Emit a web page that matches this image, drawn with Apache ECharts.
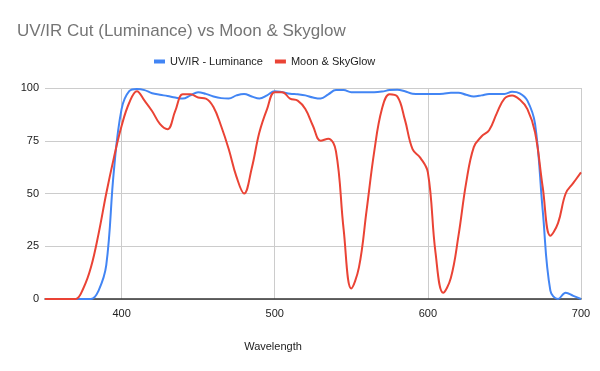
<!DOCTYPE html>
<html>
<head>
<meta charset="utf-8">
<script src="https://cdn.jsdelivr.net/npm/echarts@6/dist/echarts.min.js"></script>
<style>html,body{margin:0;padding:0;background:#fff}#c{width:600px;height:371px}</style>
</head>
<body>
<div id="c"></div>
<script>
const wavelengths = [350,355,360,365,370,375,380,385,390,395,400,405,410,415,420,425,430,435,440,445,450,455,460,465,470,475,480,485,490,495,500,505,510,515,520,525,530,535,540,545,550,555,560,565,570,575,580,585,590,595,600,605,610,615,620,625,630,635,640,645,650,655,660,665,670,675,680,685,690,695,700];
const uvirLuminance = [0,0,0,0,0,0,0,4,16,61,90,98.5,99.5,99,97.5,96.8,96.2,95.5,95,96.5,98,97.2,96,95.2,95,96.5,97.2,96,95,96.5,98.5,98,97.3,97,96.5,95.5,95,97,99,99,98,98,98,98,98.3,99,99.2,98.5,97.3,97.2,97.2,97.2,97.3,97.8,97.8,96.8,96,96.5,97.2,97.2,97.2,98.2,97.5,94,83,42,4,0,3,1.5,0];
const moonSkyglow = [0,0,0,0,0,5,15,31,50,67,82,93,98.5,94,89,83,80.5,89,97,97,95.5,95,91,82,71,58,50,62,79,90,98,98,95,94,90,82,75,76,70,33,5,15,42,70,90,97,96,85,71,67,60,22,3,10,30,55,72,77,80,88,95,96.5,94.5,90,79,53,30,36,50,55,60];
const xTicks = [400,500,600,700];
const yTicks = [0,25,50,75,100];

const pair = (ys) => wavelengths.map((x, i) => [x, ys[i]]);
const chart = echarts.init(document.getElementById('c'));
chart.setOption({
  animation: false,
  title: {
    text: 'UV/IR Cut (Luminance) vs Moon & Skyglow',
    left: 12, top: 18,
    textStyle: { fontFamily: 'Liberation Sans', fontSize: 17, fontWeight: 'normal', color: '#757575' }
  },
  legend: {
    top: 51, left: 149,
    itemWidth: 11, itemHeight: 4, itemGap: 12,
    icon: 'rect',
    textStyle: { fontFamily: 'Liberation Sans', fontSize: 11, color: '#222' },
    data: ['UV/IR - Luminance', 'Moon & SkyGlow']
  },
  grid: { left: 45, right: 19, top: 88, bottom: 72, containLabel: false },
  xAxis: {
    type: 'value', min: 350, max: 700, interval: 50,
    name: 'Wavelength', nameLocation: 'middle', nameGap: 42,
    nameTextStyle: { fontFamily: 'Liberation Sans', fontSize: 11, color: '#222', padding: [0, 80, 0, 0] },
    axisLine: { show: true, onZero: false, lineStyle: { color: '#333', width: 1.5 } },
    axisTick: { show: false },
    axisLabel: {
      fontFamily: 'Liberation Sans', fontSize: 11, color: '#222', margin: 9,
      formatter: (v) => xTicks.includes(v) ? String(v) : ''
    },
    splitLine: { show: true, lineStyle: { color: ['rgba(0,0,0,0)', '#cccccc'], width: 1 } }
  },
  yAxis: {
    type: 'value', min: 0, max: 100, interval: 25,
    axisLine: { show: false }, axisTick: { show: false },
    axisLabel: { fontFamily: 'Liberation Sans', fontSize: 11, color: '#222', margin: 6,
      formatter: (v) => yTicks.includes(v) ? String(v) : '' },
    splitLine: { lineStyle: { color: '#cccccc', width: 1 } }
  },
  series: [
    { name: 'UV/IR - Luminance', type: 'line', data: pair(uvirLuminance), smooth: 0.4, showSymbol: false,
      lineStyle: { color: '#4285F4', width: 2 }, itemStyle: { color: '#4285F4' }, clip: true },
    { name: 'Moon & SkyGlow', type: 'line', data: pair(moonSkyglow), smooth: 0.4, showSymbol: false,
      lineStyle: { color: '#EA4335', width: 2 }, itemStyle: { color: '#EA4335' }, clip: true }
  ]
});
</script>
</body>
</html>
